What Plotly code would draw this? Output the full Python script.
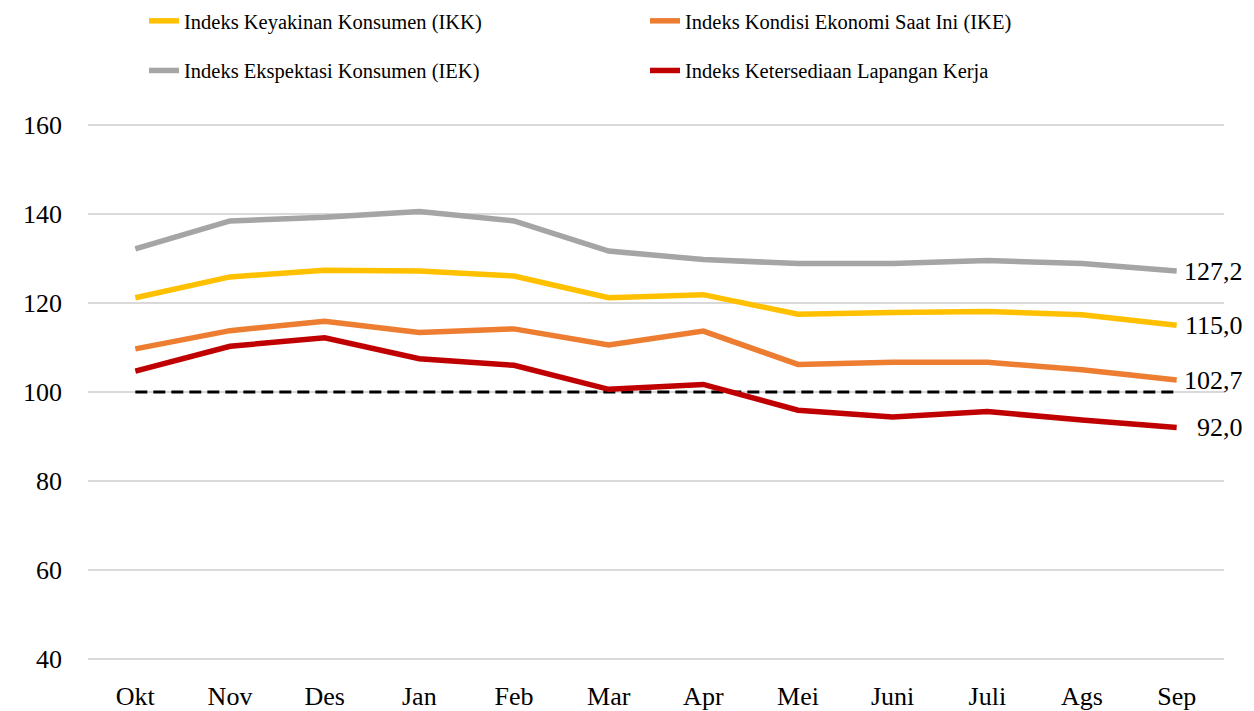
import plotly.graph_objects as go

months = ["Okt", "Nov", "Des", "Jan", "Feb", "Mar", "Apr", "Mei", "Juni", "Juli", "Ags", "Sep"]
ikk = [121.2, 125.9, 127.4, 127.2, 126.1, 121.2, 121.9, 117.5, 117.9, 118.1, 117.4, 115.0]
ike = [109.7, 113.8, 115.9, 113.4, 114.2, 110.6, 113.7, 106.2, 106.7, 106.7, 105.0, 102.7]
iek = [132.2, 138.5, 139.3, 140.6, 138.5, 131.7, 129.8, 128.9, 128.9, 129.6, 128.9, 127.2]
kerja = [104.7, 110.3, 112.2, 107.5, 106.0, 100.6, 101.7, 95.9, 94.4, 95.6, 93.7, 92.0]
baseline = [100] * len(months)
y_ticks = [40, 60, 80, 100, 120, 140, 160]

FONT = "Liberation Serif"
W, H = 1246, 703  # page body margin (8px) offsets the figure
T, B = 116, 51
PH = H - T - B

series = [
    ("Indeks Keyakinan Konsumen (IKK)", ikk, "#FFC000", "legend", "g1"),
    ("Indeks Ekspektasi Konsumen (IEK)", iek, "#A5A5A5", "legend", "g2"),
    ("Indeks Kondisi Ekonomi Saat Ini (IKE)", ike, "#ED7D31", "legend2", "g3"),
    ("Indeks Ketersediaan Lapangan Kerja", kerja, "#C00000", "legend2", "g4"),
]

fig = go.Figure()
fig.add_trace(go.Scatter(
    x=months, y=baseline, mode="lines", showlegend=False, hoverinfo="skip",
    line=dict(color="black", width=3, dash="12px,6px"),
))
for name, vals, color, leg, grp in series:
    fig.add_trace(go.Scatter(
        x=months, y=vals, mode="lines", name=name, legend=leg, legendgroup=grp,
        line=dict(color=color, width=5.5),
    ))
    fig.add_annotation(
        x=months[-1], y=vals[-1], xref="x", yref="y",
        text=f"{vals[-1]:.1f}".replace(".", ","), showarrow=False,
        xanchor="right", yanchor="middle", xshift=68,
        font=dict(family=FONT, size=26, color="black"),
    )

leg_y = 1 + (T + 7) / PH

fig.update_layout(
    width=W, height=H,
    margin=dict(l=80, r=30, t=T, b=B, autoexpand=False),
    paper_bgcolor="white", plot_bgcolor="white",
    font=dict(family=FONT, size=21, color="black"),
    xaxis=dict(
        type="category", range=[-0.5, 11.5], showgrid=False, zeroline=False,
        showline=False, ticks="", ticklabelstandoff=18, tickangle=0,
        tickfont=dict(family=FONT, size=26),
    ),
    yaxis=dict(
        range=[39.7, 160.3], tickvals=y_ticks, showgrid=True, gridcolor="#D9D9D9",
        gridwidth=1.5, zeroline=False, showline=False, ticks="",
        ticklabelstandoff=25, tickfont=dict(family=FONT, size=26),
    ),
    legend=dict(
        xref="container", yref="paper", x=136 / W, y=leg_y,
        xanchor="left", yanchor="top", orientation="v", tracegroupgap=20,
        bgcolor="rgba(0,0,0,0)", font=dict(family=FONT, size=20.5),
    ),
    legend2=dict(
        xref="container", yref="paper", x=637 / W, y=leg_y,
        xanchor="left", yanchor="top", orientation="v", tracegroupgap=20,
        bgcolor="rgba(0,0,0,0)", font=dict(family=FONT, size=20.5),
    ),
    showlegend=True,
)

fig.write_html("out.html")
